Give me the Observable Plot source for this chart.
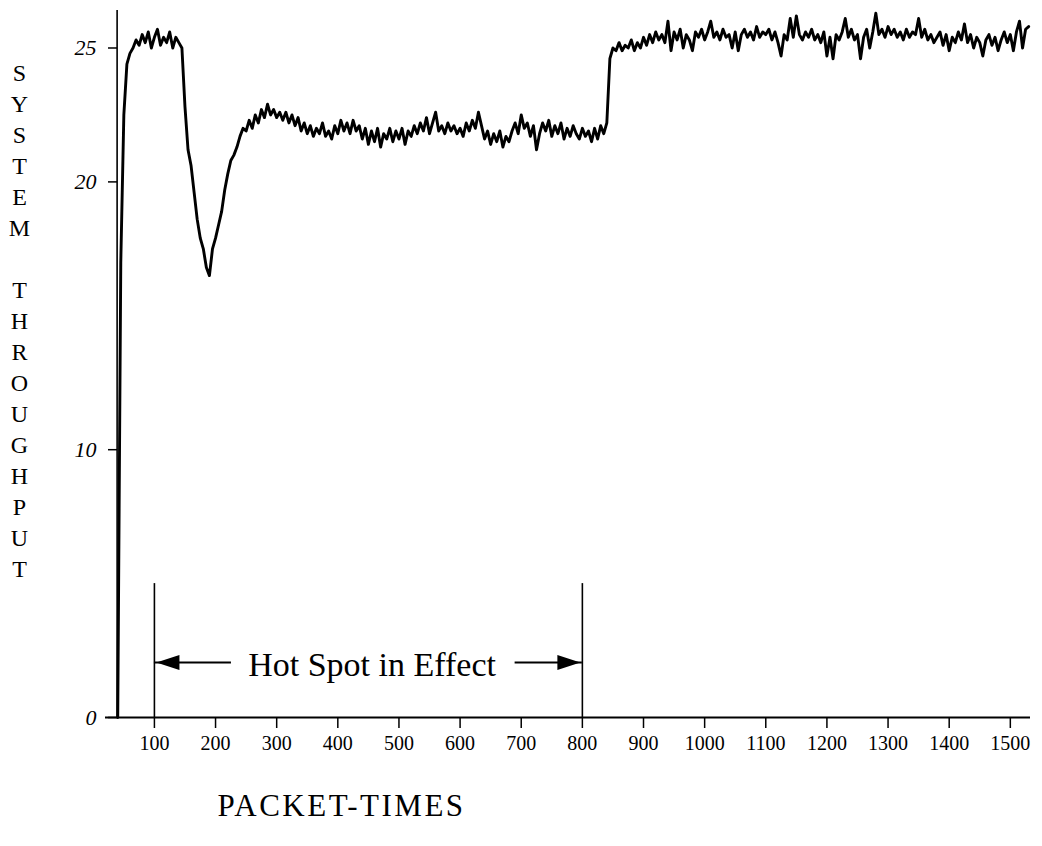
<!DOCTYPE html>
<html>
<head>
<meta charset="utf-8">
<script src="https://cdn.jsdelivr.net/npm/d3@7"></script>
<script src="https://cdn.jsdelivr.net/npm/@observablehq/plot@0.6"></script>
<style>
  html, body { margin: 0; padding: 0; background: #fff; }
  #chart { width: 1042px; height: 846px; }
</style>
</head>
<body>
<div id="chart"></div>
<script>
// ---- data ----
const firstTime = 40;      // packet-time of first sample
const sampleStep = 5;      // packet-times between samples
const throughput = [
  0, 17, 22.5, 24.4, 24.8, 25.0, 25.3, 25.1, 25.5, 25.2,          // 40-85
  25.6, 25.0, 25.4, 25.7, 25.1, 25.4, 25.2, 25.6, 25.0, 25.4,     // 90-135
  25.2, 25.0, 22.8, 21.2, 20.6, 19.6, 18.6, 17.9, 17.5, 16.8,     // 140-185
  16.5, 17.5, 17.9, 18.4, 18.9, 19.7, 20.3, 20.8, 21.0, 21.3,     // 190-235
  21.7, 22.0, 21.9, 22.3, 22.0, 22.5, 22.2, 22.7, 22.4, 22.9,     // 240-285
  22.5, 22.7, 22.4, 22.6, 22.3, 22.6, 22.2, 22.5, 22.1, 22.4,     // 290-335
  21.9, 22.2, 21.8, 22.1, 21.7, 22.0, 21.8, 22.2, 21.7, 21.9,     // 340-385
  21.6, 22.1, 21.8, 22.3, 21.9, 22.2, 21.8, 22.3, 21.9, 22.1,     // 390-435
  21.6, 22.0, 21.4, 21.9, 21.5, 22.0, 21.3, 21.8, 21.6, 22.0,     // 440-485
  21.5, 21.9, 21.6, 22.0, 21.4, 21.9, 21.7, 22.1, 21.8, 22.2,     // 490-535
  21.9, 22.4, 21.8, 22.2, 22.6, 21.9, 22.1, 21.8, 22.2, 21.9,     // 540-585
  22.1, 21.8, 22.0, 21.7, 22.2, 21.9, 22.3, 22.0, 22.6, 22.1,     // 590-635
  21.6, 21.9, 21.4, 21.8, 21.5, 21.9, 21.3, 21.7, 21.5, 21.9,     // 640-685
  22.2, 21.8, 22.5, 22.0, 22.2, 21.7, 22.1, 21.2, 21.8, 22.2,     // 690-735
  21.9, 22.3, 21.7, 22.1, 21.8, 22.2, 21.6, 22.0, 21.7, 22.1,     // 740-785
  21.8, 21.6, 22.0, 21.7, 21.9, 21.5, 22.0, 21.6, 22.1, 21.8,     // 790-835
  22.2, 24.6, 25.0, 24.9, 25.2, 24.9, 25.1, 25.0, 25.3, 24.9,     // 840-885
  25.2, 25.0, 25.4, 25.1, 25.5, 25.2, 25.6, 25.3, 25.5, 25.2,     // 890-935
  26.0, 24.9, 25.6, 25.3, 25.7, 25.0, 25.5, 25.3, 24.9, 25.6,     // 940-985
  25.4, 25.7, 25.3, 25.6, 26.0, 25.4, 25.6, 25.3, 25.7, 25.4,     // 990-1035
  25.5, 25.0, 25.6, 24.9, 25.5, 25.7, 25.4, 25.6, 25.3, 25.8,     // 1040-1085
  25.4, 25.6, 25.5, 25.7, 25.3, 25.6, 25.2, 24.7, 25.5, 25.3,     // 1090-1135
  26.1, 25.4, 26.2, 25.5, 25.3, 25.6, 25.4, 25.7, 25.3, 25.5,     // 1140-1185
  25.2, 25.6, 24.7, 25.4, 24.6, 25.5, 25.3, 25.6, 26.1, 25.4,     // 1190-1235
  25.7, 25.3, 25.5, 24.6, 25.4, 25.7, 25.0, 25.6, 26.3, 25.5,     // 1240-1285
  25.7, 25.4, 25.8, 25.5, 25.7, 25.4, 25.6, 25.3, 25.7, 25.4,     // 1290-1335
  25.6, 25.5, 26.1, 25.4, 25.7, 25.3, 25.5, 25.2, 25.4, 25.6,     // 1340-1385
  25.1, 25.5, 24.9, 25.4, 25.2, 25.6, 25.3, 25.9, 25.2, 25.5,     // 1390-1435
  25.0, 25.4, 25.2, 24.7, 25.3, 25.5, 25.1, 25.4, 24.9, 25.3,     // 1440-1485
  25.6, 25.2, 25.5, 24.9, 25.6, 26.0, 25.0, 25.7, 25.8            // 1490-1530
];
const xTicks = [100, 200, 300, 400, 500, 600, 700, 800, 900, 1000, 1100, 1200, 1300, 1400, 1500];
const yTicks = [0, 10, 20, 25];
const xDomain = [20, 1533];
const yDomain = [0, 26.4];
const yAxisAt = 39;                 // packet-time where the vertical axis is drawn
const hotSpotBounds = [100, 800];   // hot spot start / end
const hotSpotMarkerTop = 5;         // height of the bracket lines
const arrowLevel = 2.05;
const arrowTails = [226, 690];
const hotSpotLabel = "Hot Spot in Effect";
const xLabel = "PACKET-TIMES";
const yLabel = "SYSTEM THROUGHPUT";

const series = throughput.map((v, i) => ({t: firstTime + i * sampleStep, v}));

const leftHead = {draw(ctx) { ctx.moveTo(0, 0); ctx.lineTo(23, -7.5); ctx.lineTo(23, 7.5); ctx.closePath(); }};
const rightHead = {draw(ctx) { ctx.moveTo(0, 0); ctx.lineTo(-23, -7.5); ctx.lineTo(-23, 7.5); ctx.closePath(); }};

const yLabelText = yLabel.split(" ").map(w => w.split("").join("\n")).join("\n\u00a0\n");

const serif = "'Liberation Serif', 'Times New Roman', Times, serif";

const chart = Plot.plot({
  width: 1042,
  height: 846,
  marginLeft: 105,
  marginRight: 12,
  marginTop: 10,
  marginBottom: 129,
  x: {domain: xDomain},
  y: {domain: yDomain},
  style: {fontFamily: serif, color: "#000", background: "#fff", overflow: "visible"},
  marks: [
    Plot.ruleY([0], {strokeWidth: 2}),
    Plot.ruleX([yAxisAt], {strokeWidth: 1.6}),
    Plot.axisX({ticks: xTicks, tickSize: 11, tickPadding: 7, fontSize: 20, label: null, tickFormat: d => String(d), strokeWidth: 1.5}),
    Plot.axisY({ticks: yTicks, tickSize: 9, tickPadding: 12, dx: 12, fontSize: 22, fontStyle: "italic", label: null, tickFormat: d => String(d), strokeWidth: 1.5}),
    Plot.ruleX(hotSpotBounds, {y1: 0, y2: hotSpotMarkerTop, strokeWidth: 1.6}),
    Plot.ruleY([arrowLevel], {x1: hotSpotBounds[0], x2: arrowTails[0], strokeWidth: 2}),
    Plot.ruleY([arrowLevel], {x1: arrowTails[1], x2: hotSpotBounds[1], strokeWidth: 2}),
    Plot.dot([{x: hotSpotBounds[0], y: arrowLevel}], {x: "x", y: "y", symbol: leftHead, fill: "#000", stroke: "none", dx: 2}),
    Plot.dot([{x: hotSpotBounds[1], y: arrowLevel}], {x: "x", y: "y", symbol: rightHead, fill: "#000", stroke: "none", dx: -2}),
    Plot.text([hotSpotLabel], {x: (hotSpotBounds[0] + hotSpotBounds[1]) / 2 + 6, y: arrowLevel, dy: 3, fontSize: 34, fontFamily: serif, fill: "#000"}),
    Plot.line(series, {x: "t", y: "v", strokeWidth: 2.9, stroke: "#000", strokeLinejoin: "round"}),
    Plot.text([yLabelText], {frameAnchor: "left", dx: -86, dy: -45, lineAnchor: "middle", lineHeight: 1.29, fontSize: 24, fontFamily: serif, textAnchor: "middle", fill: "#000"}),
    Plot.text([xLabel], {frameAnchor: "bottom-left", dx: 236, dy: 98, fontSize: 31, fontFamily: serif, textAnchor: "middle", fill: "#000"})
  ]
});

d3.select(chart).selectAll("text").filter(function() { return this.textContent === xLabel; }).style("letter-spacing", "2.5px");
document.getElementById("chart").appendChild(chart);
</script>
</body>
</html>
